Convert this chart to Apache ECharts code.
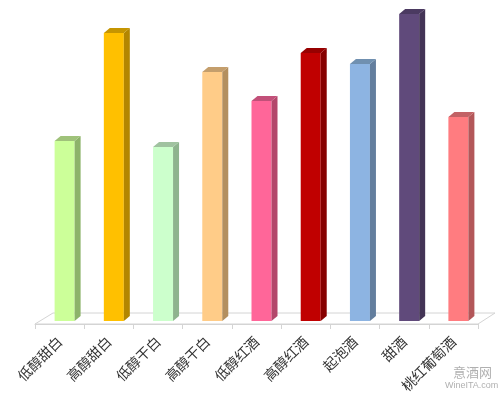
<!DOCTYPE html>
<html>
<head>
<meta charset="utf-8">
<script src="https://cdn.jsdelivr.net/npm/echarts@6/dist/echarts.min.js"></script>
<style>html,body{margin:0;padding:0;background:#fff;}#c{width:500px;height:398px;}</style>
</head>
<body>
<div id="c"></div>
<script>
var categories = ['低醇甜白','高醇甜白','低醇干白','高醇干白','低醇红酒','高醇红酒','起泡酒','甜酒','桃红葡萄酒'];
var values = [180, 288, 174, 249, 220, 268, 257, 307, 204];
var frontColors = ['#CCFF99','#FFC000','#CCFFCC','#FFCC88','#FF6699','#C00000','#8DB4E2','#604A7B','#FF7C80'];
var sideColors  = ['#8DB36A','#B38600','#8EB38E','#B38F5F','#B3476B','#860000','#637E9E','#433456','#B35759'];
var topColors   = ['#9FC27A','#C59500','#A0C2A0','#C49E6C','#C25079','#970000','#7090B0','#4B3A61','#C26265'];

var chart = echarts.init(document.getElementById('c'), null, {renderer:'canvas'});

function barItem(params, api){
  var i = api.value(0), v = api.value(1);
  var base = api.coord([i, 0]), top = api.coord([i, v]);
  var bw = 20, dx = 6, dy = 5, off = 5, lift = 3;
  var x0 = base[0] + off - bw/2, x1 = x0 + bw;
  var yb = base[1] - lift, yt = top[1] - lift;
  return {type:'group', children:[
    {type:'rect', shape:{x:x0, y:yt, width:bw, height:yb-yt}, style:{fill:frontColors[i]}},
    {type:'polygon', shape:{points:[[x1,yt],[x1+dx,yt-dy],[x1+dx,yb-dy],[x1,yb]]}, style:{fill:sideColors[i]}},
    {type:'polygon', shape:{points:[[x0,yt],[x0+dx,yt-dy],[x1+dx,yt-dy],[x1,yt]]}, style:{fill:topColors[i]}}
  ]};
}
function floorItem(params, api){
  var cs = params.coordSys;
  var yb = cs.y + cs.height;
  return {type:'polygon', shape:{points:[[cs.x,yb],[cs.x+cs.width,yb],[cs.x+cs.width+17,yb-11],[cs.x+18,yb-11]]},
    style:{fill:'#ffffff', stroke:'#d4d4d4', lineWidth:1}};
}

chart.setOption({
  animation:false,
  backgroundColor:'#ffffff',
  grid:{left:35, right:22, top:4, bottom:74},
  xAxis:{type:'category', data:categories, boundaryGap:true,
    axisLine:{show:true, lineStyle:{color:'#d4d4d4', width:1}},
    axisTick:{show:true, length:5, lineStyle:{color:'#d4d4d4'}},
    axisLabel:{rotate:45, fontSize:14, color:'#333333', margin:15, interval:0, fontFamily:'Noto Sans CJK SC'},
    splitLine:{show:false}, z:3},
  yAxis:{type:'value', min:0, max:320, show:false, splitLine:{show:false}},
  series:[
    {type:'custom', silent:true, renderItem:floorItem, data:[[0,0]], encode:{x:0,y:1}, z:1},
    {type:'custom', renderItem:barItem, data:values.map(function(v,i){return [i,v];}), encode:{x:0,y:1}, z:5}
  ],
  graphic:[
    {type:'text', left:453, top:366, style:{text:'意酒网', fontSize:13, fill:'#b0b0b0', fontFamily:'Noto Sans CJK SC'}},
    {type:'text', left:445, top:381, style:{text:'WineITA.com', fontSize:9, fill:'#b0b0b0', fontFamily:'Liberation Sans'}}
  ]
});
</script>
</body>
</html>
